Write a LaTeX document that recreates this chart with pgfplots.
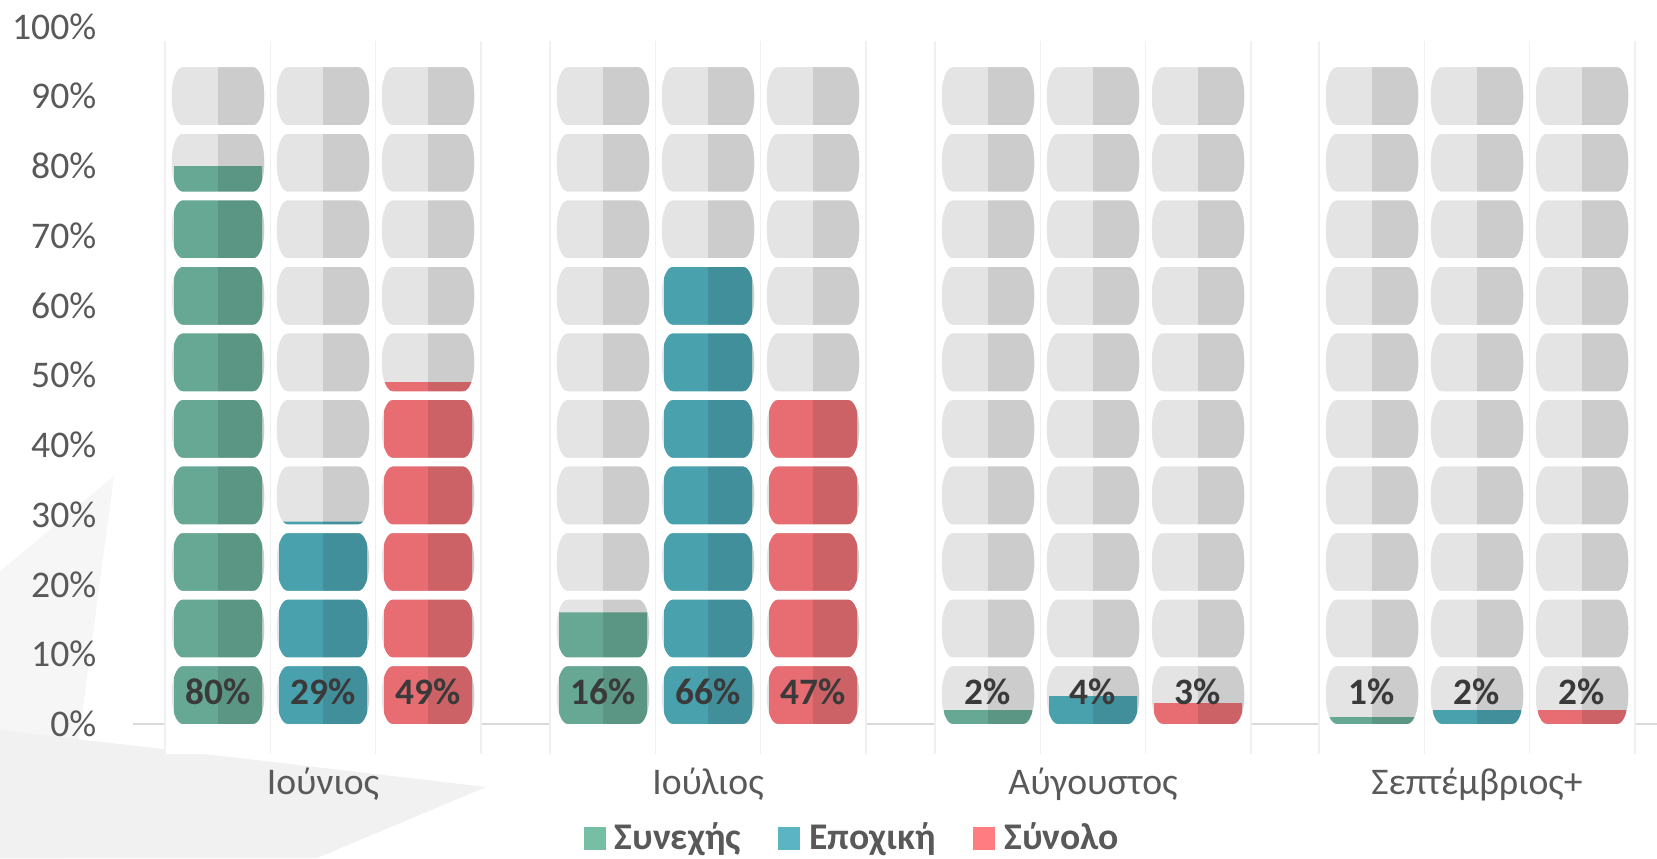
\documentclass[border=0pt]{standalone}
\usepackage{pgfplots}
\pgfplotsset{compat=1.18}
\usepackage{fontspec}
\setmainfont{Carlito}
\definecolor{grayL}{HTML}{E4E4E4}
\definecolor{grayD}{HTML}{CCCCCC}
\definecolor{greenL}{HTML}{67A894}
\definecolor{greenD}{HTML}{5B9583}
\definecolor{blueL}{HTML}{4AA1AE}
\definecolor{blueD}{HTML}{418F9A}
\definecolor{redL}{HTML}{E76D73}
\definecolor{redD}{HTML}{CD6266}
\definecolor{legGreen}{HTML}{76BFA5}
\definecolor{legBlue}{HTML}{5AB4C1}
\definecolor{legRed}{HTML}{FF7C80}
\definecolor{tickgray}{HTML}{595959}
\definecolor{lbl}{HTML}{3A3A3A}
\definecolor{axisline}{HTML}{D9D9D9}
\definecolor{divider}{HTML}{F0F0F0}
\definecolor{bgA}{HTML}{F6F6F6}
\definecolor{bgB}{HTML}{F1F1F1}
\begin{document}
\begin{tikzpicture}
\begin{axis}[
  set layers,
  x=0.3pt, y=2.0925pt,
  xmin=0, xmax=1657, ymin=-19.21, ymax=103.8,
  axis line style={draw=none},
  major tick length=0pt,
  ytick={0,10,...,100},
  yticklabels={0\%,10\%,20\%,30\%,40\%,50\%,60\%,70\%,80\%,90\%,100\%},
  xtick={323,708,1093,1477},
  xticklabels={Ιούνιος,Ιούλιος,Αύγουστος,Σεπτέμβριος+},
  yticklabel style={anchor=east, inner sep=0pt, xshift=29.1pt, font=\fontsize{11.3}{13}\selectfont, text=tickgray},
  xticklabel style={anchor=base, inner sep=0pt, yshift=19.2pt, font=\fontsize{11.3}{13}\selectfont, text=tickgray},
  legend columns=3,
  legend style={draw=none, fill=none, at={(0.5136,0.0227)}, anchor=center,
    font=\bfseries\fontsize{11.3}{13}\selectfont, text=tickgray, inner sep=0pt,
    nodes={inner sep=0pt},
    /tikz/every odd column/.append style={column sep=2.7pt},
    /tikz/every even column/.append style={column sep=11.1pt}},
]
% background decoration
\begin{pgfonlayer}{axis background}
\fill[bgA] (0,21.9) -- (114,35.56) -- (63,-19.21) -- (0,-19.21) -- cycle;
\fill[bgB] (0,-0.86) -- (486,-9.03) -- (317,-19.21) -- (0,-19.21) -- cycle;
\draw[axisline, line width=0.6pt] (133,0) -- (1657,0);
\end{pgfonlayer}
% empty (grey) slots
\addplot[forget plot, ybar, bar width=13.95pt, bar shift=-6.975pt, fill=grayL, draw=none]
  coordinates {(218,94.5) (323,94.5) (428,94.5) (603,94.5) (708,94.5) (813,94.5)
               (988,94.5) (1093,94.5) (1198,94.5) (1372,94.5) (1477,94.5) (1582,94.5)};
\addplot[forget plot, ybar, bar width=13.95pt, bar shift=6.975pt, fill=grayD, draw=none]
  coordinates {(218,94.5) (323,94.5) (428,94.5) (603,94.5) (708,94.5) (813,94.5)
               (988,94.5) (1093,94.5) (1198,94.5) (1372,94.5) (1477,94.5) (1582,94.5)};
% Συνεχής
\addplot[forget plot, ybar, bar width=13.2pt, bar shift=-38.1pt, fill=greenL, draw=none]
  coordinates {(323,80) (708,16) (1093,2) (1477,1)};
\addplot[forget plot, ybar, bar width=13.2pt, bar shift=-24.9pt, fill=greenD, draw=none]
  coordinates {(323,80) (708,16) (1093,2) (1477,1)};
% Εποχική
\addplot[forget plot, ybar, bar width=13.2pt, bar shift=-6.6pt, fill=blueL, draw=none]
  coordinates {(323,29) (708,66) (1093,4) (1477,2)};
\addplot[forget plot, ybar, bar width=13.2pt, bar shift=6.6pt, fill=blueD, draw=none]
  coordinates {(323,29) (708,66) (1093,4) (1477,2)};
% Σύνολο
\addplot[forget plot, ybar, bar width=13.2pt, bar shift=24.9pt, fill=redL, draw=none]
  coordinates {(323,49) (708,47) (1093,3) (1477,2)};
\addplot[forget plot, ybar, bar width=13.2pt, bar shift=38.1pt, fill=redD, draw=none]
  coordinates {(323,49) (708,47) (1093,3) (1477,2)};
% white mask leaving the barrel-shaped pills
\fill[white, even odd rule]
  \foreach \g [evaluate=\g as \gl using \g-158, evaluate=\g as \gr using \g+158] in {323,708,1093,1477} {
    (\gl,-4.3) rectangle (\gr,97.9)
    \foreach \d [evaluate=\d as \c using \g+\d] in {-105,0,105} {
      \foreach \i [evaluate=\i as \yb using 9.54*\i] in {0,...,9} {
        ([xshift=-10.65pt]\c,\yb) -- ++(21.3pt,0pt)
          arc[start angle=-90, end angle=0, x radius=3.3pt, y radius=8.685pt]
          arc[start angle=0, end angle=90, x radius=3.3pt, y radius=8.685pt]
          -- ++(-21.3pt,0pt)
          arc[start angle=90, end angle=180, x radius=3.3pt, y radius=8.685pt]
          arc[start angle=180, end angle=270, x radius=3.3pt, y radius=8.685pt]
          -- cycle
      }
    }
  };
% faint dividers
\draw[divider, line width=0.4pt]
  \foreach \g in {323,708,1093,1477} {
    \foreach \d [evaluate=\d as \xx using \g+\d] in {-158,-52.5,52.5,158} {
      (\xx,-4.3) -- (\xx,97.9)
    }
  };
% value labels
\addplot[forget plot, only marks, mark=none, nodes near coords, point meta=explicit symbolic,
  nodes near coords style={anchor=center, inner sep=0pt, font=\bfseries\fontsize{11.2}{13}\selectfont, text=lbl}]
  coordinates {(218,4.66) [80\%] (323,4.66) [29\%] (428,4.66) [49\%]
               (603,4.66) [16\%] (708,4.66) [66\%] (813,4.66) [47\%]
               (988,4.66) [2\%] (1093,4.66) [4\%] (1198,4.66) [3\%]
               (1372,4.66) [1\%] (1477,4.66) [2\%] (1582,4.66) [2\%]};
% legend
\addlegendimage{legend image code/.code={\fill[legGreen] (0pt,-3.15pt) rectangle (6.3pt,3.15pt);}}
\addlegendentry{Συνεχής}
\addlegendimage{legend image code/.code={\fill[legBlue] (0pt,-3.15pt) rectangle (6.3pt,3.15pt);}}
\addlegendentry{Εποχική}
\addlegendimage{legend image code/.code={\fill[legRed] (0pt,-3.15pt) rectangle (6.3pt,3.15pt);}}
\addlegendentry{Σύνολο}
\end{axis}
\pgfresetboundingbox
\path[use as bounding box] (current axis.south west) rectangle (current axis.north east);
\end{tikzpicture}
\end{document}
